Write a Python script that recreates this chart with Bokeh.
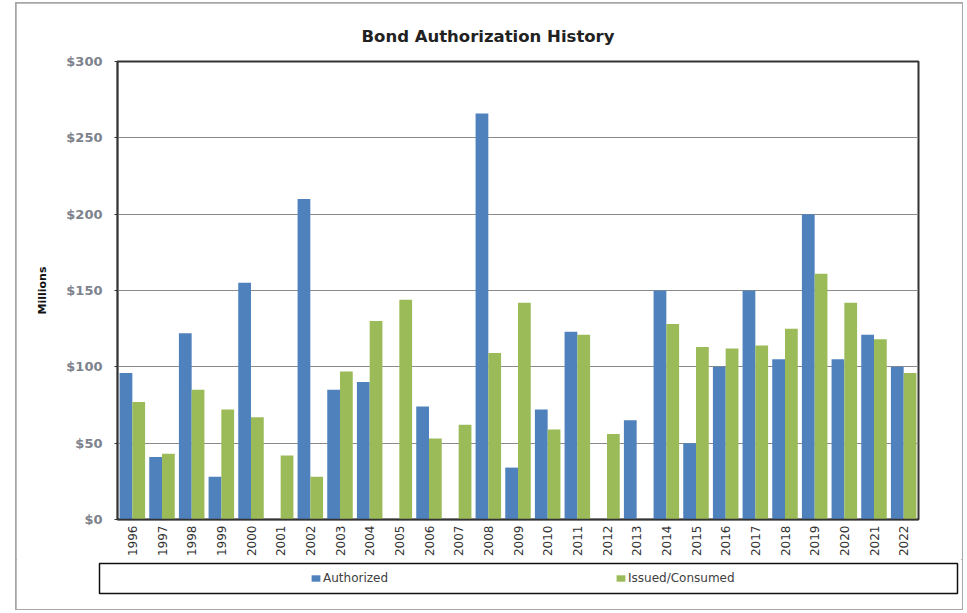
import math
from bokeh.plotting import figure
from bokeh.layouts import column
from bokeh.models import (ColumnDataSource, FactorRange, FixedTicker, PrintfTickFormatter,
                          Legend, LegendItem)
from bokeh.transform import dodge
from bokeh.embed import file_html
from bokeh.resources import INLINE

nan = float("nan")

years = ["1996", "1997", "1998", "1999", "2000", "2001", "2002", "2003", "2004", "2005",
         "2006", "2007", "2008", "2009", "2010", "2011", "2012", "2013", "2014", "2015",
         "2016", "2017", "2018", "2019", "2020", "2021", "2022"]
authorized = [96, 41, 122, 28, 155, nan, 210, 85, 90, nan,
              74, nan, 266, 34, 72, 123, nan, 65, 150, 50,
              100, 150, 105, 200, 105, 121, 100]
issued = [77, 43, 85, 72, 67, 42, 28, 97, 130, 144,
          53, 62, 109, 142, 59, 121, 56, nan, 128, 113,
          112, 114, 125, 161, 142, 118, 96]
y_ticks = [0, 50, 100, 150, 200, 250, 300]
series_names = ["Authorized", "Issued/Consumed"]

BLUE = "#4F81BD"
GREEN = "#9BBB59"

source = ColumnDataSource(data=dict(year=years, authorized=authorized, issued=issued))

p = figure(x_range=FactorRange(*years, range_padding=0), y_range=(0, 300),
           width=946, height=556, output_backend="svg", toolbar_location=None,
           min_border_left=101, min_border_right=44, min_border_top=58, min_border_bottom=39,
           title="Bond Authorization History")
p.frame_align = False

p.title.text_font = "DejaVu Sans"
p.title.text_font_size = "16.5px"
p.title.text_font_style = "bold"
p.title.text_color = "#222222"
p.title.align = "left"
p.title.offset = 244
p.title.vertical_align = "top"
p.title.standoff = 27

p.vbar(x=dodge("year", -0.215, range=p.x_range), top="authorized", width=0.43,
       source=source, fill_color=BLUE, line_color=None)
p.vbar(x=dodge("year", 0.215, range=p.x_range), top="issued", width=0.43,
       source=source, fill_color=GREEN, line_color=None)

p.outline_line_color = "#333333"
p.outline_line_width = 2

p.xgrid.grid_line_color = None
p.ygrid.grid_line_color = "#8a8a8a"
p.ygrid.grid_line_width = 1.2

p.yaxis.ticker = FixedTicker(ticks=y_ticks)
p.yaxis.formatter = PrintfTickFormatter(format="$%d")
p.yaxis.major_label_text_font = "DejaVu Sans"
p.yaxis.major_label_text_font_size = "13px"
p.yaxis.major_label_text_font_style = "bold"
p.yaxis.major_label_text_color = "#7d828c"
p.yaxis.major_label_standoff = 12
p.yaxis.major_tick_out = 3
p.yaxis.major_tick_in = 0
p.yaxis.minor_tick_line_color = None
p.yaxis.axis_line_color = "#333333"
p.yaxis.axis_line_width = 1.5
p.yaxis.major_tick_line_color = "#333333"
p.yaxis.axis_label = "Millions"
p.yaxis.axis_label_text_font = "DejaVu Sans"
p.yaxis.axis_label_text_font_size = "11px"
p.yaxis.axis_label_text_font_style = "bold"
p.yaxis.axis_label_text_color = "#111111"
p.yaxis.axis_label_standoff = 14

p.xaxis.major_label_orientation = math.pi / 2
p.xaxis.major_label_text_font = "DejaVu Sans"
p.xaxis.major_label_text_font_size = "12px"
p.xaxis.major_label_text_color = "#333333"
p.xaxis.major_label_standoff = 6
p.xaxis.major_tick_out = 0
p.xaxis.major_tick_in = 0
p.xaxis.major_tick_line_color = None
p.xaxis.minor_tick_line_color = None
p.xaxis.axis_line_color = "#333333"
p.xaxis.axis_line_width = 1.5

# legend panel: a small figure whose frame is the legend box
lg = figure(x_range=(0, 1), y_range=(0, 1), width=946, height=50,
            output_backend="svg", toolbar_location=None,
            x_axis_location=None, y_axis_location=None,
            min_border_left=83, min_border_right=5, min_border_top=4, min_border_bottom=16)
lg.frame_align = False
lg.grid.visible = False
lg.outline_line_color = "#111111"
lg.outline_line_width = 1.5
# zero-height placeholder glyphs that only supply the legend swatches
la = lg.vbar(x=[0.5], top=[0], width=0, fill_color=BLUE, line_color=None)
li = lg.vbar(x=[0.5], top=[0], width=0, fill_color=GREEN, line_color=None)

legend = Legend(items=[LegendItem(label=series_names[0], renderers=[la]),
                       LegendItem(label=series_names[1], renderers=[li])],
                orientation="horizontal", location=(211, 8),
                padding=0, margin=0, spacing=42, label_width=250, label_height=14,
                glyph_width=11, glyph_height=8, label_standoff=2,
                border_line_alpha=0, background_fill_alpha=0,
                label_text_font="DejaVu Sans", label_text_font_size="12px",
                label_text_color="#404040")
lg.add_layout(legend, "center")

layout = column(p, lg, spacing=0, margin=(3, 0, 0, 16),
                styles={"outline": "2px solid #a6a6a6", "outline-offset": "-1px"})

open("out.html", "w").write(file_html(layout, INLINE))
